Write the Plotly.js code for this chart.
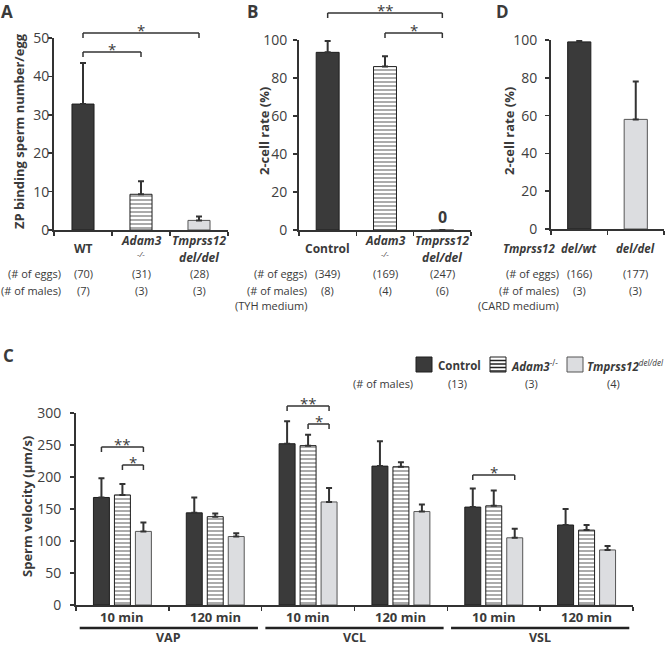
<!DOCTYPE html>
<html lang="en">
<head>
  <meta charset="UTF-8" />
  <title>Sperm function panels</title>
  <script src="https://cdn.jsdelivr.net/npm/plotly.js-dist@3.0.1/plotly.min.js"></script>
  <style>
    body { margin: 0; background: #fff; }
    #fig { width: 666px; height: 646px; }
  </style>
</head>
<body>
<div id="fig"></div>
<script>
  // panel A: ZP binding
  const groupsA = ['WT', 'Adam3', 'Tmprss12'];
  const subA = ['', '-/-', 'del/del'];
  const zpMean = [32.8, 9.3, 2.5];
  const zpErr = [10.7, 3.4, 1.0];
  const eggsA = ['(70)', '(31)', '(28)'];
  const malesA = ['(7)', '(3)', '(3)'];

  // panel B: 2-cell rate, TYH medium
  const groupsB = ['Control', 'Adam3', 'Tmprss12'];
  const subB = ['', '-/-', 'del/del'];
  const rateB = [93.5, 86, 0];
  const rateErrB = [6, 5.5, 0];
  const eggsB = ['(349)', '(169)', '(247)'];
  const malesB = ['(8)', '(4)', '(6)'];

  // panel D: 2-cell rate, CARD medium
  const groupsD = ['del/wt', 'del/del'];
  const rateD = [99, 58];
  const rateErrD = [0.6, 20];
  const eggsD = ['(166)', '(177)'];
  const malesD = ['(3)', '(3)'];

  // panel C: sperm velocity
  const slotsC = ['VAP 10', 'VAP 120', 'VCL 10', 'VCL 120', 'VSL 10', 'VSL 120'];
  const timesC = ['10 min', '120 min', '10 min', '120 min', '10 min', '120 min'];
  const paramsC = ['VAP', 'VCL', 'VSL'];
  const controlVel = [168, 144, 252, 217, 153, 125];
  const controlErr = [30, 24, 35, 39, 29, 25];
  const adam3Vel = [172, 138, 249, 216, 155, 117];
  const adam3Err = [17, 5, 17, 7, 24, 8];
  const tmprssVel = [115, 107, 161, 146, 105, 86];
  const tmprssErr = [14, 5, 22, 11, 14, 6];
  const malesC = ['(13)', '(3)', '(4)'];

  const W = 666, H = 646;
  const fx = p => p / W;
  const fy = p => 1 - p / H;

  const DARK = '#3a3a3a', LIGHT = '#dcdde0', INK = '#333333', TXT = '#3a3a3a';
  const FONT = 'Open Sans, sans-serif';

  const barColors = [DARK, '#ffffff', LIGHT];
  const barLines = ['#1e1e1e', '#1e1e1e', '#555555'];
  const barShapes = ['', '-', ''];

  function errBar(arr) {
    return { type: 'data', array: arr, arrayminus: arr.map(() => 0), symmetric: false,
             color: INK, thickness: 2, width: 3 };
  }

  function marker(idx) {
    return {
      color: idx.map(i => barColors[i]),
      line: { color: idx.map(i => barLines[i]), width: 1 },
      pattern: { shape: idx.map(i => barShapes[i]), fillmode: 'overlay', fgcolor: '#222', size: 4, solidity: 0.45 }
    };
  }

  const traces = [
    { type: 'bar', x: groupsA, y: zpMean, xaxis: 'x', yaxis: 'y', width: 0.38,
      marker: marker([0, 1, 2]), error_y: errBar(zpErr) },
    { type: 'bar', x: groupsB, y: rateB, xaxis: 'x2', yaxis: 'y2', width: 0.4,
      marker: marker([0, 1, 2]), error_y: errBar(rateErrB) },
    { type: 'bar', x: groupsD, y: rateD, xaxis: 'x3', yaxis: 'y3', width: 0.41,
      marker: marker([0, 2]), error_y: errBar(rateErrD) }
  ];

  const wC = 0.172;
  const dC = [-0.226, 0, 0.226];
  [[controlVel, controlErr], [adam3Vel, adam3Err], [tmprssVel, tmprssErr]].forEach((s, k) => {
    const m = marker(slotsC.map(() => k));
    traces.push({ type: 'bar', x: slotsC, y: s[0], xaxis: 'x4', yaxis: 'y4',
      width: wC, offset: dC[k] - wC / 2, marker: m, error_y: errBar(s[1]) });
  });

  function xAx(d0, d1, n, anchor) {
    return { domain: [fx(d0), fx(d1)], type: 'category', range: [-0.5, n - 0.5], anchor: anchor,
      showline: true, linecolor: INK, linewidth: 2, ticks: 'outside', tickson: 'boundaries',
      ticklen: 4, tickwidth: 1.5, tickcolor: INK, showticklabels: false, showgrid: false, zeroline: false, fixedrange: true };
  }
  function yAx(top, bottom, max, dt, anchor, standoff) {
    return { domain: [fy(bottom), fy(top)], range: [0, max], dtick: dt, anchor: anchor,
      showline: true, linecolor: INK, linewidth: 2, ticks: 'outside', ticklen: 4, tickwidth: 1.5, tickcolor: INK,
      tickfont: { family: FONT, size: 14, color: '#404040' }, ticklabelstandoff: standoff,
      showgrid: false, zeroline: false, fixedrange: true };
  }

  const ann = [];
  // x, y in pixels unless xref is a data axis
  function txt(text, x, y, o) {
    const a = Object.assign({ text: text, xref: 'paper', yref: 'paper', showarrow: false,
      xanchor: 'center', yanchor: 'middle', font: { family: FONT, size: 11, color: TXT } }, o || {});
    a.x = a.xref === 'paper' ? fx(x) : x;
    a.y = fy(y);
    ann.push(a);
  }
  function big(f) { return { family: FONT, size: f, color: TXT }; }

  // panel letters
  txt('<b>A</b>', 7, 12, { font: big(17) });
  txt('<b>B</b>', 252, 12, { font: big(17) });
  txt('<b>D</b>', 502, 12, { font: big(17) });
  txt('<b>C</b>', 8, 355, { font: big(17) });

  // y titles
  txt('<b>ZP binding sperm number/egg</b>', 19, 131, { textangle: -90, font: big(13) });
  txt('<b>2-cell rate (%)</b>', 264, 131, { textangle: -90, font: big(13) });
  txt('<b>2-cell rate (%)</b>', 509, 131, { textangle: -90, font: big(13) });
  txt('<b>Sperm velocity (μm/s)</b>', 27, 507, { textangle: -90, font: big(13) });

  // category labels A, B
  function catLabels(groups, subs, axis, eggs, males) {
    groups.forEach((g, i) => {
      const o = { xref: axis };
      if (!subs[i]) {
        txt('<b>' + g + '</b>', g, 248, Object.assign({ font: big(12) }, o));
      } else {
        txt('<b><i>' + g + '</i></b>', g, 241, Object.assign({ font: big(12) }, o));
        if (subs[i] === '-/-') txt('<i>' + subs[i] + '</i>', g, 253, Object.assign({ font: big(8) }, o));
        else txt('<b><i>' + subs[i] + '</i></b>', g, 258, Object.assign({ font: big(12) }, o));
      }
      txt(eggs[i], g, 273, o);
      txt(males[i], g, 290, o);
    });
  }
  catLabels(groupsA, subA, 'x', eggsA, malesA);
  catLabels(groupsB, subB, 'x2', eggsB, malesB);
  groupsD.forEach((g, i) => {
    txt('<b><i>' + g + '</i></b>', g, 248, { xref: 'x3', font: big(11.5) });
    txt(eggsD[i], g, 273, { xref: 'x3' });
    txt(malesD[i], g, 290, { xref: 'x3' });
  });
  txt('<b><i>Tmprss12</i></b>', 557, 248, { xanchor: 'right', font: big(11.5) });

  [[63, null], [309, '(TYH medium)'], [561, '(CARD medium)']].forEach(r => {
    txt('(# of eggs)', r[0], 273, { xanchor: 'right' });
    txt('(# of males)', r[0], 290, { xanchor: 'right' });
    if (r[1]) txt(r[1], r[0], 305, { xanchor: 'right' });
  });

  // zero label on B
  ann.push({ text: '<b>0</b>', x: groupsB[2], y: 0, xref: 'x2', yref: 'y2', yanchor: 'bottom', yshift: 0,
    showarrow: false, font: big(16) });

  // panel C category labels
  slotsC.forEach((s, i) => txt('<b>' + timesC[i] + '</b>', s, 617, { xref: 'x4', font: big(13) }));
  paramsC.forEach((p, j) => txt('<b>' + p + '</b>', 2 * j + 0.5, 637, { xref: 'x4', font: big(12.5) }));

  // legend C
  txt('<b>Control</b>', 436, 365, { xanchor: 'left', font: big(11.5) });
  txt('<b><i>Adam3</i></b><sup>-/-</sup>', 509, 365, { xanchor: 'left', font: big(11.5) });
  txt('<b><i>Tmprss12</i></b><sup><i>del/del</i></sup>', 585, 365, { xanchor: 'left', font: big(11.5) });
  txt('(# of males)', 415, 383, { xanchor: 'right' });
  [457, 531, 613].forEach((x, k) => txt(malesC[k], x, 383));

  // significance brackets: axis, left x, right x, y (px), stars
  const brackets = [
    ['x', 0, 2, 33, '*'], ['x', 0, 1, 52, '*'],
    ['x2', 0, 2, 13, '**'], ['x2', 1, 2, 33, '*'],
    ['x4', 0 + dC[0], 0 + dC[2], 447, '**'], ['x4', 0 + dC[1], 0 + dC[2], 465, '*'],
    ['x4', 2 + dC[0], 2 + dC[2], 406, '**'], ['x4', 2 + dC[1], 2 + dC[2], 424, '*'],
    ['x4', 4 + dC[0], 4 + dC[2], 475, '*']
  ];
  const shapes = [];
  const ln = { color: INK, width: 1.5 };
  brackets.forEach(b => {
    const [ax, x0, x1, y, st] = b;
    shapes.push({ type: 'line', xref: ax, yref: 'paper', x0: x0, x1: x1, y0: fy(y), y1: fy(y), line: ln });
    shapes.push({ type: 'line', xref: ax, yref: 'paper', x0: x0, x1: x0, y0: fy(y), y1: fy(y + 5), line: ln });
    shapes.push({ type: 'line', xref: ax, yref: 'paper', x0: x1, x1: x1, y0: fy(y), y1: fy(y + 5), line: ln });
    txt(st, (x0 + x1) / 2, y - 3, { xref: ax, font: big(15) });
  });

  // group underlines C
  paramsC.forEach((p, j) => {
    shapes.push({ type: 'line', xref: 'x4', yref: 'paper', x0: 2 * j - 0.46, x1: 2 * j + 1.46,
      y0: fy(628), y1: fy(628), line: { color: '#222', width: 2.5 } });
  });

  // legend swatches
  const sq = (x0, fill, lc) => shapes.push({ type: 'rect', xref: 'paper', yref: 'paper',
    x0: fx(x0), x1: fx(x0 + 16), y0: fy(372), y1: fy(357), fillcolor: fill, line: { color: lc, width: 1 } });
  sq(416, DARK, '#1e1e1e');
  sq(490, '#ffffff', '#1e1e1e');
  sq(567, LIGHT, '#555555');
  [360.5, 364, 367.5, 371].forEach(y => shapes.push({ type: 'line', xref: 'paper', yref: 'paper',
    x0: fx(490), x1: fx(506), y0: fy(y), y1: fy(y), line: { color: '#222', width: 1.5 } }));

  const layout = {
    width: W, height: H, margin: { l: 0, r: 0, t: 0, b: 0 },
    paper_bgcolor: '#ffffff', plot_bgcolor: 'rgba(0,0,0,0)',
    showlegend: false, barmode: 'overlay',
    font: { family: FONT, color: TXT },
    xaxis: xAx(54, 228, 3, 'y'), yaxis: yAx(38, 230, 50, 10, 'x', -4),
    xaxis2: xAx(299, 471, 3, 'y2'), yaxis2: yAx(40, 230, 100, 20, 'x2', 3),
    xaxis3: xAx(551, 664, 2, 'y3'), yaxis3: yAx(40, 229, 100, 20, 'x3', 5),
    xaxis4: xAx(76, 633, 6, 'y4'), yaxis4: yAx(413, 605, 300, 50, 'x4', 6),
    annotations: ann, shapes: shapes
  };

  Plotly.newPlot('fig', traces, layout, { staticPlot: true });
</script>
</body>
</html>
